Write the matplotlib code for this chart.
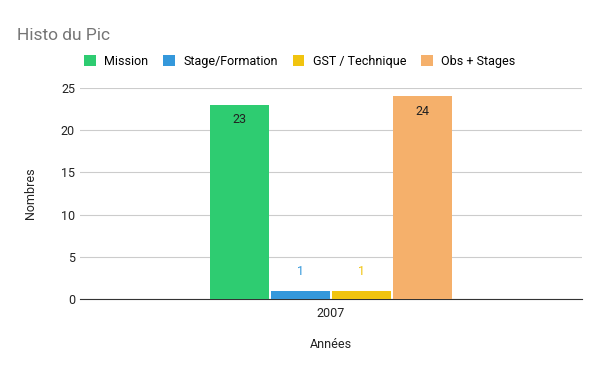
import numpy as np
import matplotlib.pyplot as plt

plt.rcParams['font.family'] = ['Roboto', 'DejaVu Sans']

years = ['2007']
series = ['Mission', 'Stage/Formation', 'GST / Technique', 'Obs + Stages']
values = [23, 1, 1, 24]
colors = ['#2ecc71', '#3498db', '#f1c40f', '#f5b06b']
label_colors = ['#222222', '#3498db', '#f1c40f', '#222222']

fig = plt.figure(figsize=(6, 3.71), dpi=100)
ax = fig.add_axes([0.133, 0.194, 0.837, 0.569])

x = np.arange(len(years))
step = 0.1215
width = 0.1175
for i, (name, v, c, lc) in enumerate(zip(series, values, colors, label_colors)):
    pos = x + (i - 1.5) * step
    ax.bar(pos, [v], width=width, color=c, label=name, zorder=3)
    if v > 5:
        ax.annotate(str(v), (pos[0], v), xytext=(0, -6), textcoords='offset points',
                    ha='center', va='top', fontsize=9, color=lc)
    else:
        ax.annotate(str(v), (pos[0], v), xytext=(0, 9), textcoords='offset points',
                    ha='center', va='bottom', fontsize=9, color=lc)

ax.set_xlim(-0.5, 0.5)
ax.set_ylim(0, 25)
ax.set_yticks([0, 5, 10, 15, 20, 25])
ax.set_xticks(x)
ax.set_xticklabels(years)
ax.grid(axis='y', color='#cccccc', linewidth=0.8, zorder=0)
for s in ['top', 'right', 'left']:
    ax.spines[s].set_visible(False)
ax.spines['bottom'].set_color('#333333')
ax.tick_params(axis='both', length=0, labelsize=9, colors='#222222')
ax.tick_params(axis='x', pad=6)
ax.set_ylabel('Nombres', fontsize=9, color='#222222', labelpad=17)
ax.set_xlabel('Années', fontsize=9, color='#222222', labelpad=13)

fig.text(0.028, 0.905, 'Histo du Pic', fontsize=12.5, color='#757575', va='center')
fig.legend(loc='center', bbox_to_anchor=(0.5, 0.835), ncol=4, frameon=False,
           fontsize=9, handlelength=0.9, handleheight=0.9, handletextpad=0.7,
           columnspacing=1.2)

fig.savefig('out.png', dpi=100)
